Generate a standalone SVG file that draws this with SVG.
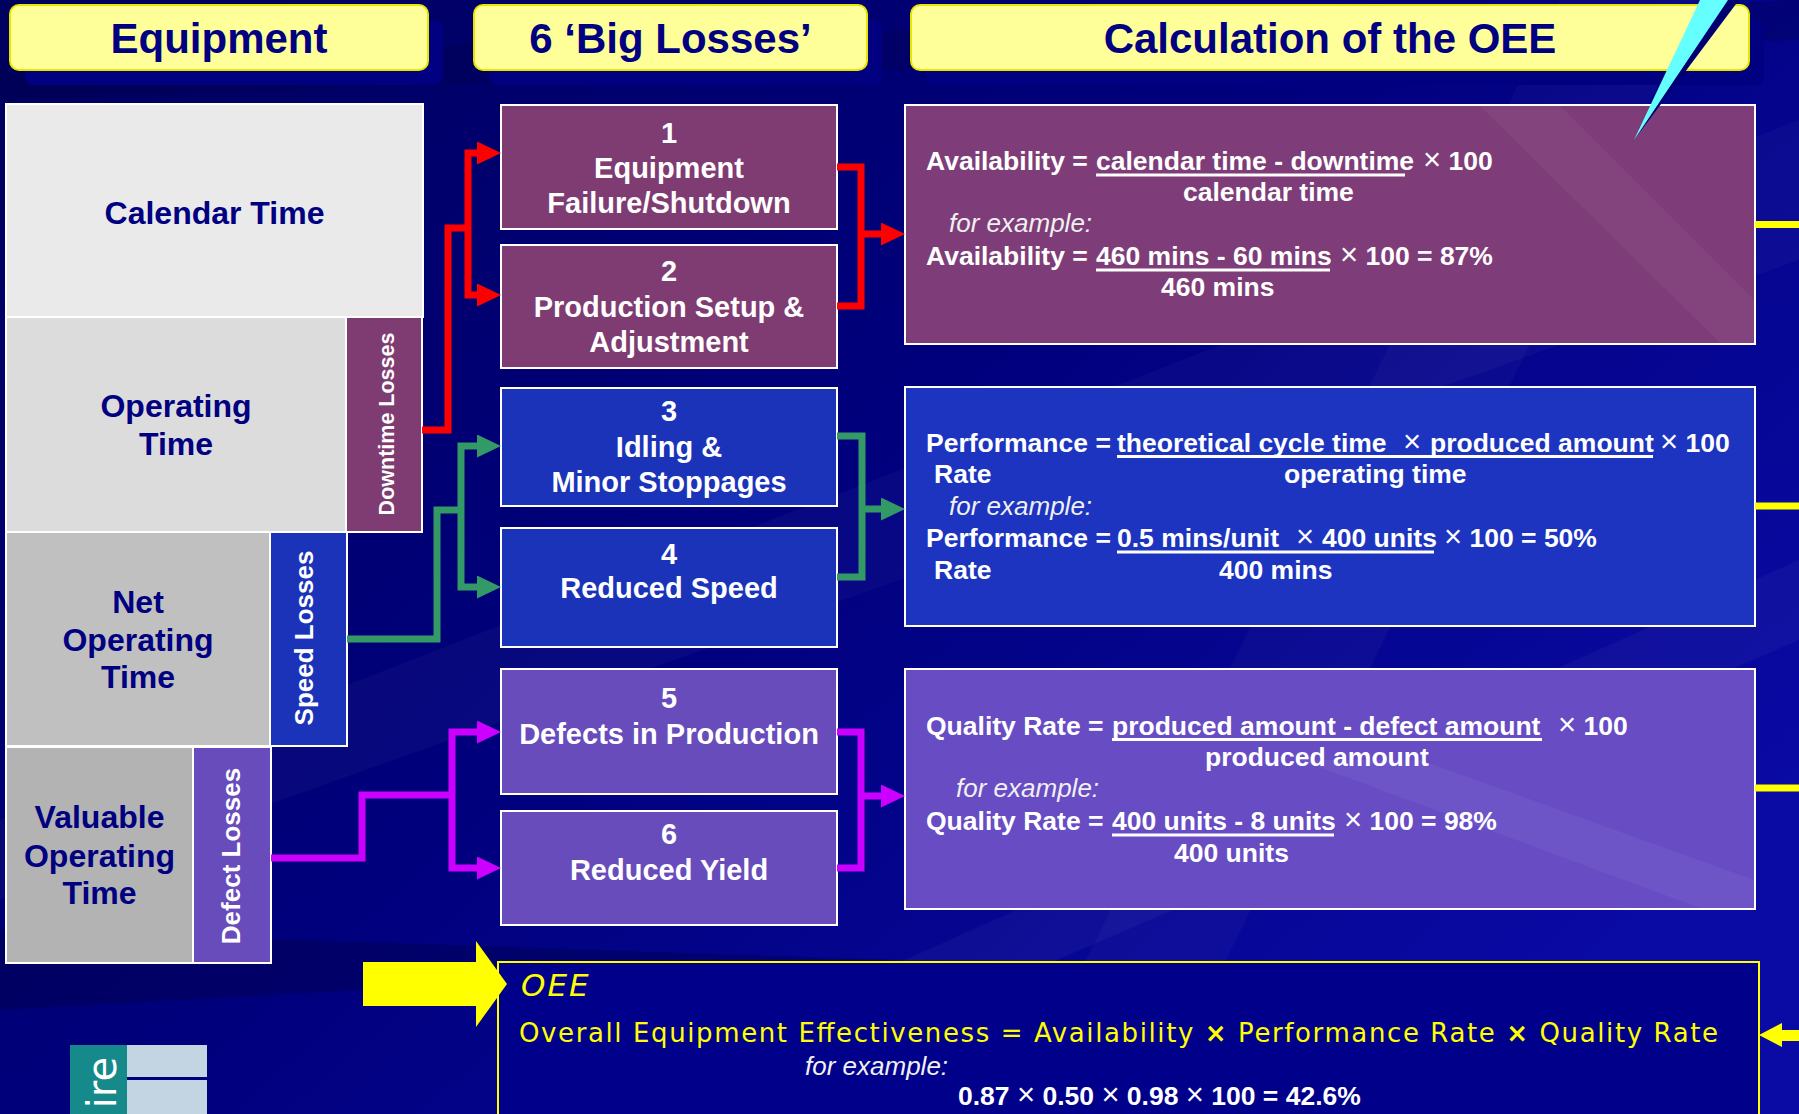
<svg xmlns="http://www.w3.org/2000/svg" width="1799" height="1114" viewBox="0 0 1799 1114">
<defs>
<linearGradient id="bg" x1="0" y1="0" x2="1" y2="0.7">
<stop offset="0" stop-color="#00005e"/>
<stop offset="0.5" stop-color="#00007c"/>
<stop offset="1" stop-color="#0a0aa4"/>
</linearGradient>
<marker id="arR" markerUnits="userSpaceOnUse" markerWidth="24" markerHeight="23" refX="13" refY="11.5" orient="auto-start-reverse"><path d="M0,0 L24,11.5 L0,23 z" fill="#ff0000"/></marker>
<marker id="arG" markerUnits="userSpaceOnUse" markerWidth="24" markerHeight="23" refX="13" refY="11.5" orient="auto-start-reverse"><path d="M0,0 L24,11.5 L0,23 z" fill="#339966"/></marker>
<marker id="arM" markerUnits="userSpaceOnUse" markerWidth="24" markerHeight="23" refX="13" refY="11.5" orient="auto-start-reverse"><path d="M0,0 L24,11.5 L0,23 z" fill="#cc00ff"/></marker>
</defs>
<style>
.hdrbox{fill:#ffff99;stroke:#e6e600;stroke-width:2}
.shadow{fill:#000080}
.hdr{font-family:"Liberation Sans",Arial,sans-serif;font-weight:bold;font-size:42px;fill:#000080;text-anchor:middle}
.cell{stroke:#ffffff;stroke-width:2}
.lt{font-family:"Liberation Sans",Arial,sans-serif;font-weight:bold;font-size:32px;fill:#000080;text-anchor:middle}
.vt{font-family:"Liberation Sans",Arial,sans-serif;font-weight:bold;fill:#ffffff;text-anchor:middle}
.bt{font-family:"Liberation Sans",Arial,sans-serif;font-weight:bold;font-size:29px;fill:#ffffff;text-anchor:middle}
.ft{font-family:"Liberation Sans",Arial,sans-serif;font-weight:bold;font-size:26.5px;fill:#ffffff}
.fi{font-family:"Liberation Sans",Arial,sans-serif;font-style:italic;font-size:26px;fill:#f0f0f0}
.x{font-weight:normal;font-size:31px}
.ul{stroke:#ffffff;stroke-width:3}
.purple{fill:#7f3c72}
.blue{fill:#1b33b9}
.violet{fill:#684cbb}
.con{fill:none;stroke-width:7;stroke-linejoin:miter}
.red{stroke:#ff0000}
.green{stroke:#339966}
.mag{stroke:#cc00ff}
.yel{fill:#ffff00}
.oeet{font-family:"DejaVu Sans",Verdana,sans-serif;fill:#ffff00}
</style>

<rect width="1799" height="1114" fill="url(#bg)"/>
<g id="background-streaks">
<polygon points="1799,120 1799,260 0,900 0,820" fill="#ffffff" opacity="0.03"/>
<polygon points="1560,0 1700,0 1150,1114 1010,1114" fill="#ffffff" opacity="0.03"/>
<polygon points="1799,560 1799,640 700,1114 560,1114" fill="#ffffff" opacity="0.04"/>
<polygon points="0,930 900,960 0,1010" fill="#000040" opacity="0.35"/>
<polygon points="0,60 1799,0 1799,40 0,100" fill="#000040" opacity="0.25"/>
</g>

<g id="header-equipment">
<rect class="shadow" x="25" y="20" width="418" height="65" rx="9"/>
<rect class="hdrbox" x="10" y="5" width="418" height="65" rx="9"/>
<text class="hdr" x="219" y="53">Equipment</text>
</g>
<g id="header-big-losses">
<rect class="shadow" x="489" y="20" width="393" height="65" rx="9"/>
<rect class="hdrbox" x="474" y="5" width="393" height="65" rx="9"/>
<text class="hdr" x="670.5" y="53">6 ‘Big Losses’</text>
</g>
<g id="header-calculation">
<rect class="shadow" x="926" y="20" width="838" height="65" rx="9"/>
<rect class="hdrbox" x="911" y="5" width="838" height="65" rx="9"/>
<text class="hdr" x="1330" y="53">Calculation of the OEE</text>
</g>

<g id="calendar-time">
<rect class="cell" x="6" y="104" width="417" height="213" fill="#eaeaea"/>
<text class="lt" x="214.5" y="224">Calendar Time</text>
</g>
<g id="operating-time">
<rect class="cell" x="6" y="317" width="340" height="215" fill="#dcdcdc"/>
<text class="lt" x="176" y="417">Operating</text>
<text class="lt" x="176" y="455">Time</text>
</g>
<g id="downtime-losses">
<rect class="cell purple" x="346" y="317" width="76" height="215"/>
<text class="vt" font-size="21.5" transform="translate(394,424) rotate(-90)">Downtime Losses</text>
</g>
<g id="net-operating-time">
<rect class="cell" x="6" y="532" width="264" height="214" fill="#c0c0c0"/>
<text class="lt" x="138" y="613">Net</text>
<text class="lt" x="138" y="651">Operating</text>
<text class="lt" x="138" y="688">Time</text>
</g>
<g id="speed-losses">
<rect class="cell blue" x="270" y="532" width="77" height="214"/>
<text class="vt" font-size="26" transform="translate(313,638) rotate(-90)">Speed Losses</text>
</g>
<g id="valuable-operating-time">
<rect class="cell" x="6" y="747" width="187" height="216" fill="#b3b3b3"/>
<text class="lt" x="99.5" y="828">Valuable</text>
<text class="lt" x="99.5" y="867">Operating</text>
<text class="lt" x="99.5" y="904">Time</text>
</g>
<g id="defect-losses">
<rect class="cell violet" x="193" y="747" width="78" height="216"/>
<text class="vt" font-size="26" transform="translate(240,856) rotate(-90)">Defect Losses</text>
</g>

<g id="loss-1">
<rect class="cell purple" x="501" y="105" width="336" height="124"/>
<text class="bt" x="669" y="143">1</text>
<text class="bt" x="669" y="178">Equipment</text>
<text class="bt" x="669" y="213">Failure/Shutdown</text>
</g>
<g id="loss-2">
<rect class="cell purple" x="501" y="245" width="336" height="123"/>
<text class="bt" x="669" y="281">2</text>
<text class="bt" x="669" y="317">Production Setup &amp;</text>
<text class="bt" x="669" y="352">Adjustment</text>
</g>
<g id="loss-3">
<rect class="cell blue" x="501" y="388" width="336" height="118"/>
<text class="bt" x="669" y="421">3</text>
<text class="bt" x="669" y="457">Idling &amp;</text>
<text class="bt" x="669" y="492">Minor Stoppages</text>
</g>
<g id="loss-4">
<rect class="cell blue" x="501" y="528" width="336" height="119"/>
<text class="bt" x="669" y="564">4</text>
<text class="bt" x="669" y="598">Reduced Speed</text>
</g>
<g id="loss-5">
<rect class="cell violet" x="501" y="669" width="336" height="125"/>
<text class="bt" x="669" y="708">5</text>
<text class="bt" x="669" y="744">Defects in Production</text>
</g>
<g id="loss-6">
<rect class="cell violet" x="501" y="811" width="336" height="114"/>
<text class="bt" x="669" y="844">6</text>
<text class="bt" x="669" y="880">Reduced Yield</text>
</g>

<g id="availability">
<rect class="cell" x="905" y="105" width="850" height="239" fill="#7e3d78"/>
<polygon points="1480,106 1560,106 1754,300 1754,343 1720,343" fill="#ffffff" opacity="0.04"/>
<text class="ft" x="926" y="170">Availability =</text>
<text class="ft" x="1096" y="170">calendar time - downtime</text>
<text class="ft" x="1423" y="170"><tspan class="x">×</tspan> 100</text>
<line class="ul" x1="1096" y1="175" x2="1405" y2="175"/>
<text class="ft" x="1183" y="201">calendar time</text>
<text class="fi" x="949" y="232">for example:</text>
<text class="ft" x="926" y="265">Availability =</text>
<text class="ft" x="1096" y="265">460 mins - 60 mins</text>
<text class="ft" x="1340" y="265"><tspan class="x">×</tspan> 100 = 87%</text>
<line class="ul" x1="1096" y1="270" x2="1330" y2="270"/>
<text class="ft" x="1161" y="296">460 mins</text>
</g>
<g id="performance">
<rect class="cell" x="905" y="387" width="850" height="239" fill="#1c34bf"/>
<text class="ft" x="926" y="452">Performance =</text>
<text class="ft" x="1117" y="452">theoretical cycle time</text>
<text class="ft x" x="1403" y="452">×</text>
<text class="ft" x="1430" y="452">produced amount</text>
<text class="ft" x="1660" y="452"><tspan class="x">×</tspan> 100</text>
<line class="ul" x1="1117" y1="456.5" x2="1653" y2="456.5"/>
<text class="ft" x="934" y="483">Rate</text>
<text class="ft" x="1284" y="483">operating time</text>
<text class="fi" x="949" y="515">for example:</text>
<text class="ft" x="926" y="547">Performance =</text>
<text class="ft" x="1117" y="547">0.5 mins/unit</text>
<text class="ft x" x="1296" y="547">×</text>
<text class="ft" x="1322" y="547">400 units</text>
<text class="ft" x="1444" y="547"><tspan class="x">×</tspan> 100 = 50%</text>
<line class="ul" x1="1117" y1="552" x2="1434" y2="552"/>
<text class="ft" x="934" y="579">Rate</text>
<text class="ft" x="1219" y="579">400 mins</text>
</g>
<g id="quality">
<rect class="cell" x="905" y="669" width="850" height="240" fill="#674cc4"/>
<polygon points="1300,760 1420,760 1754,880 1754,908 1700,908" fill="#ffffff" opacity="0.05"/>
<text class="ft" x="926" y="735">Quality Rate =</text>
<text class="ft" x="1112" y="735">produced amount - defect amount</text>
<text class="ft" x="1558" y="735"><tspan class="x">×</tspan> 100</text>
<line class="ul" x1="1112" y1="739.5" x2="1542" y2="739.5"/>
<text class="ft" x="1205" y="766">produced amount</text>
<text class="fi" x="956" y="797">for example:</text>
<text class="ft" x="926" y="830">Quality Rate =</text>
<text class="ft" x="1112" y="830">400 units - 8 units</text>
<text class="ft" x="1344" y="830"><tspan class="x">×</tspan> 100 = 98%</text>
<line class="ul" x1="1112" y1="835" x2="1334" y2="835"/>
<text class="ft" x="1174" y="862">400 units</text>
</g>

<g id="oee">
<rect x="498" y="962" width="1261" height="170" fill="#00008a" stroke="#ffff00" stroke-width="2"/>
<text class="oeet" x="521" y="996" font-size="31" font-style="italic" letter-spacing="2">OEE</text>
<text class="oeet" x="519" y="1042" font-size="26" textLength="1199" lengthAdjust="spacing">Overall Equipment Effectiveness = Availability <tspan font-weight="bold">×</tspan> Performance Rate <tspan font-weight="bold">×</tspan> Quality Rate</text>
<text class="fi" x="805" y="1075" font-size="25" fill="#ffffff">for example:</text>
<text class="ft" x="958" y="1105" font-size="28.5">0.87 <tspan class="x" font-size="34">×</tspan> 0.50 <tspan class="x" font-size="34">×</tspan> 0.98 <tspan class="x" font-size="34">×</tspan> 100 = 42.6%</text>
</g>

<g id="connectors">
<path class="con red" d="M422,430 H448 V228 H468"/>
<path class="con red" d="M490,153 H468 V295 H490" marker-start="url(#arR)" marker-end="url(#arR)"/>
<path class="con red" d="M837,167 H861 V306 H837"/>
<path class="con red" d="M861,234 H894" marker-end="url(#arR)"/>
<path class="con green" d="M347,639 H437 V510 H461"/>
<path class="con green" d="M490,446 H461 V587 H490" marker-start="url(#arG)" marker-end="url(#arG)"/>
<path class="con green" d="M837,436 H862 V577 H837"/>
<path class="con green" d="M862,509 H894" marker-end="url(#arG)"/>
<path class="con mag" d="M271,858 H362 V795 H452"/>
<path class="con mag" d="M490,732 H452 V868 H490" marker-start="url(#arM)" marker-end="url(#arM)"/>
<path class="con mag" d="M837,732 H861 V868 H837"/>
<path class="con mag" d="M861,796 H894" marker-end="url(#arM)"/>
<path d="M1755,224.5 H1799 M1755,506 H1799 M1755,788 H1799" fill="none" stroke="#ffff00" stroke-width="7"/>
<polygon class="yel" points="363,962 476,962 476,941 507,984 476,1027 476,1006 363,1006"/>
<polygon class="yel" points="1759,1035 1782,1023 1782,1030 1799,1030 1799,1041 1782,1041 1782,1047"/>
</g>

<g id="callout-spike">
<polygon points="1727,0 1739,0 1634,140" fill="#000070"/>
<polygon points="1700,0 1728,0 1634,140" fill="#66ffff"/>
</g>

<g id="logo-fragment">
<rect x="70" y="1045" width="57" height="69" fill="#168a8a"/>
<rect x="127" y="1045" width="80" height="32" fill="#c3d5e3"/>
<rect x="127" y="1080" width="80" height="34" fill="#c3d5e3"/>
<text x="0" y="0" font-family="DejaVu Sans,sans-serif" font-size="40" fill="#ffffff" text-anchor="end" transform="translate(116,1057) rotate(-90)">ire</text>
</g>
</svg>
